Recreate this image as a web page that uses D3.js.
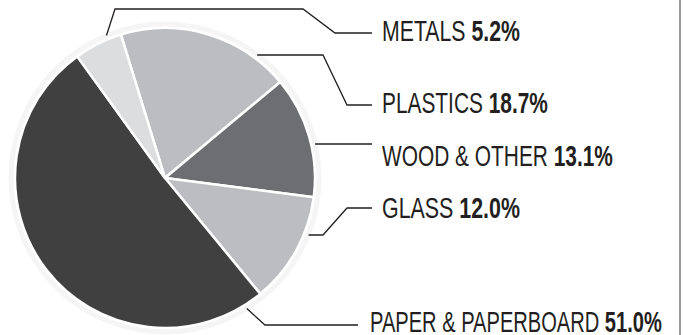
<!DOCTYPE html>
<html>
<head>
<meta charset="utf-8">
<script src="https://cdn.jsdelivr.net/npm/d3@7"></script>
<style>
  body { margin: 0; background: #fff; }
  svg { display: block; }
  .lbl { font-family: "Liberation Sans", Arial, sans-serif; font-size: 29px; fill: #231f20; }
  .lbl .pct { font-weight: bold; }
</style>
</head>
<body>
<div id="chart"></div>
<script>
// Slices in clockwise order, starting at the metals/plastics edge
const categories = ["PLASTICS", "WOOD & OTHER", "GLASS", "PAPER & PAPERBOARD", "METALS"];
const shares = [18.7, 13.1, 12.0, 51.0, 5.2];
const shareLabels = ["18.7%", "13.1%", "12.0%", "51.0%", "5.2%"];
const colors = ["#bcbdc0", "#6d6e71", "#bcbdc0", "#404041", "#dcdddf"];

const width = 683, height = 335;
const cx = 165, cy = 178, radius = 150;

const svg = d3.select("#chart").append("svg")
    .attr("width", width)
    .attr("height", height);

// frame line on the right
svg.append("line")
    .attr("x1", 680).attr("x2", 680)
    .attr("y1", 0).attr("y2", height)
    .attr("stroke", "#9a9a9a")
    .attr("stroke-width", 2);

const deg = Math.PI / 180;
const pie = d3.pie().sort(null).value(d => d.v)
    .startAngle(-17.1 * deg)
    .endAngle(342.9 * deg);

const data = categories.map((c, i) => ({ name: c, v: shares[i], pct: shareLabels[i], color: colors[i] }));
const arcs = pie(data);

const g = svg.append("g").attr("transform", `translate(${cx},${cy})`);

// faint halo round the pie
g.append("circle")
    .attr("r", radius + 4)
    .attr("fill", "none")
    .attr("stroke", "#f5f5f5")
    .attr("stroke-width", 5);

const arc = d3.arc().innerRadius(0).outerRadius(radius);

g.selectAll("path.slice")
    .data(arcs)
    .enter()
    .append("path")
    .attr("class", "slice")
    .attr("d", arc)
    .attr("fill", d => d.data.color)
    .attr("stroke", "#fff")
    .attr("stroke-width", 2.5)
    .attr("stroke-linejoin", "round");

// leader lines: where each one leaves the pie (fraction into slice) and its route
const leaderFrac = { "PLASTICS": 0.8, "WOOD & OTHER": 0.57, "GLASS": 0.32, "PAPER & PAPERBOARD": 0.04, "METALS": 0.72 };
const leaderRoute = {
  "METALS": [[115, 9], [303, 9], [335, 33], [372, 33]],
  "PLASTICS": [[323, 55], [347, 105], [372, 105]],
  "WOOD & OTHER": [[372, 144]],
  "GLASS": [[323, 235], [347, 208], [372, 208]],
  "PAPER & PAPERBOARD": [[265, 325], [358, 325]]
};
const labelPos = {
  "METALS": [382, 41],
  "PLASTICS": [382, 113],
  "WOOD & OTHER": [382, 166],
  "GLASS": [382, 218],
  "PAPER & PAPERBOARD": [370, 332]
};
const labelWidth = { "METALS": 138, "PLASTICS": 166, "WOOD & OTHER": 231, "GLASS": 138, "PAPER & PAPERBOARD": 292 };

arcs.forEach(d => {
  const name = d.data.name;
  const a = d.startAngle + (d.endAngle - d.startAngle) * leaderFrac[name];
  const p = d3.pointRadial(a, radius + 4);
  let start = [cx + p[0], cy + p[1]];
  const route = leaderRoute[name];
  if (name === "PLASTICS" || name === "WOOD & OTHER" || name === "GLASS") start[1] = route[0][1];
  const pts = [start].concat(route);
  svg.append("path")
      .attr("d", d3.line()(pts))
      .attr("fill", "none")
      .attr("stroke", "#231f20")
      .attr("stroke-width", 1.3);

  const lg = svg.append("g")
      .attr("transform", `translate(${labelPos[name][0]},${labelPos[name][1]})`);
  const t = lg.append("text").attr("class", "lbl");
  t.append("tspan").text(name + " ");
  t.append("tspan").attr("class", "pct").text(d.data.pct);
  // condense horizontally to the width seen in the reference
  const w = t.node().getComputedTextLength();
  t.attr("transform", `scale(${labelWidth[name] / w},1)`);
});
</script>
</body>
</html>
